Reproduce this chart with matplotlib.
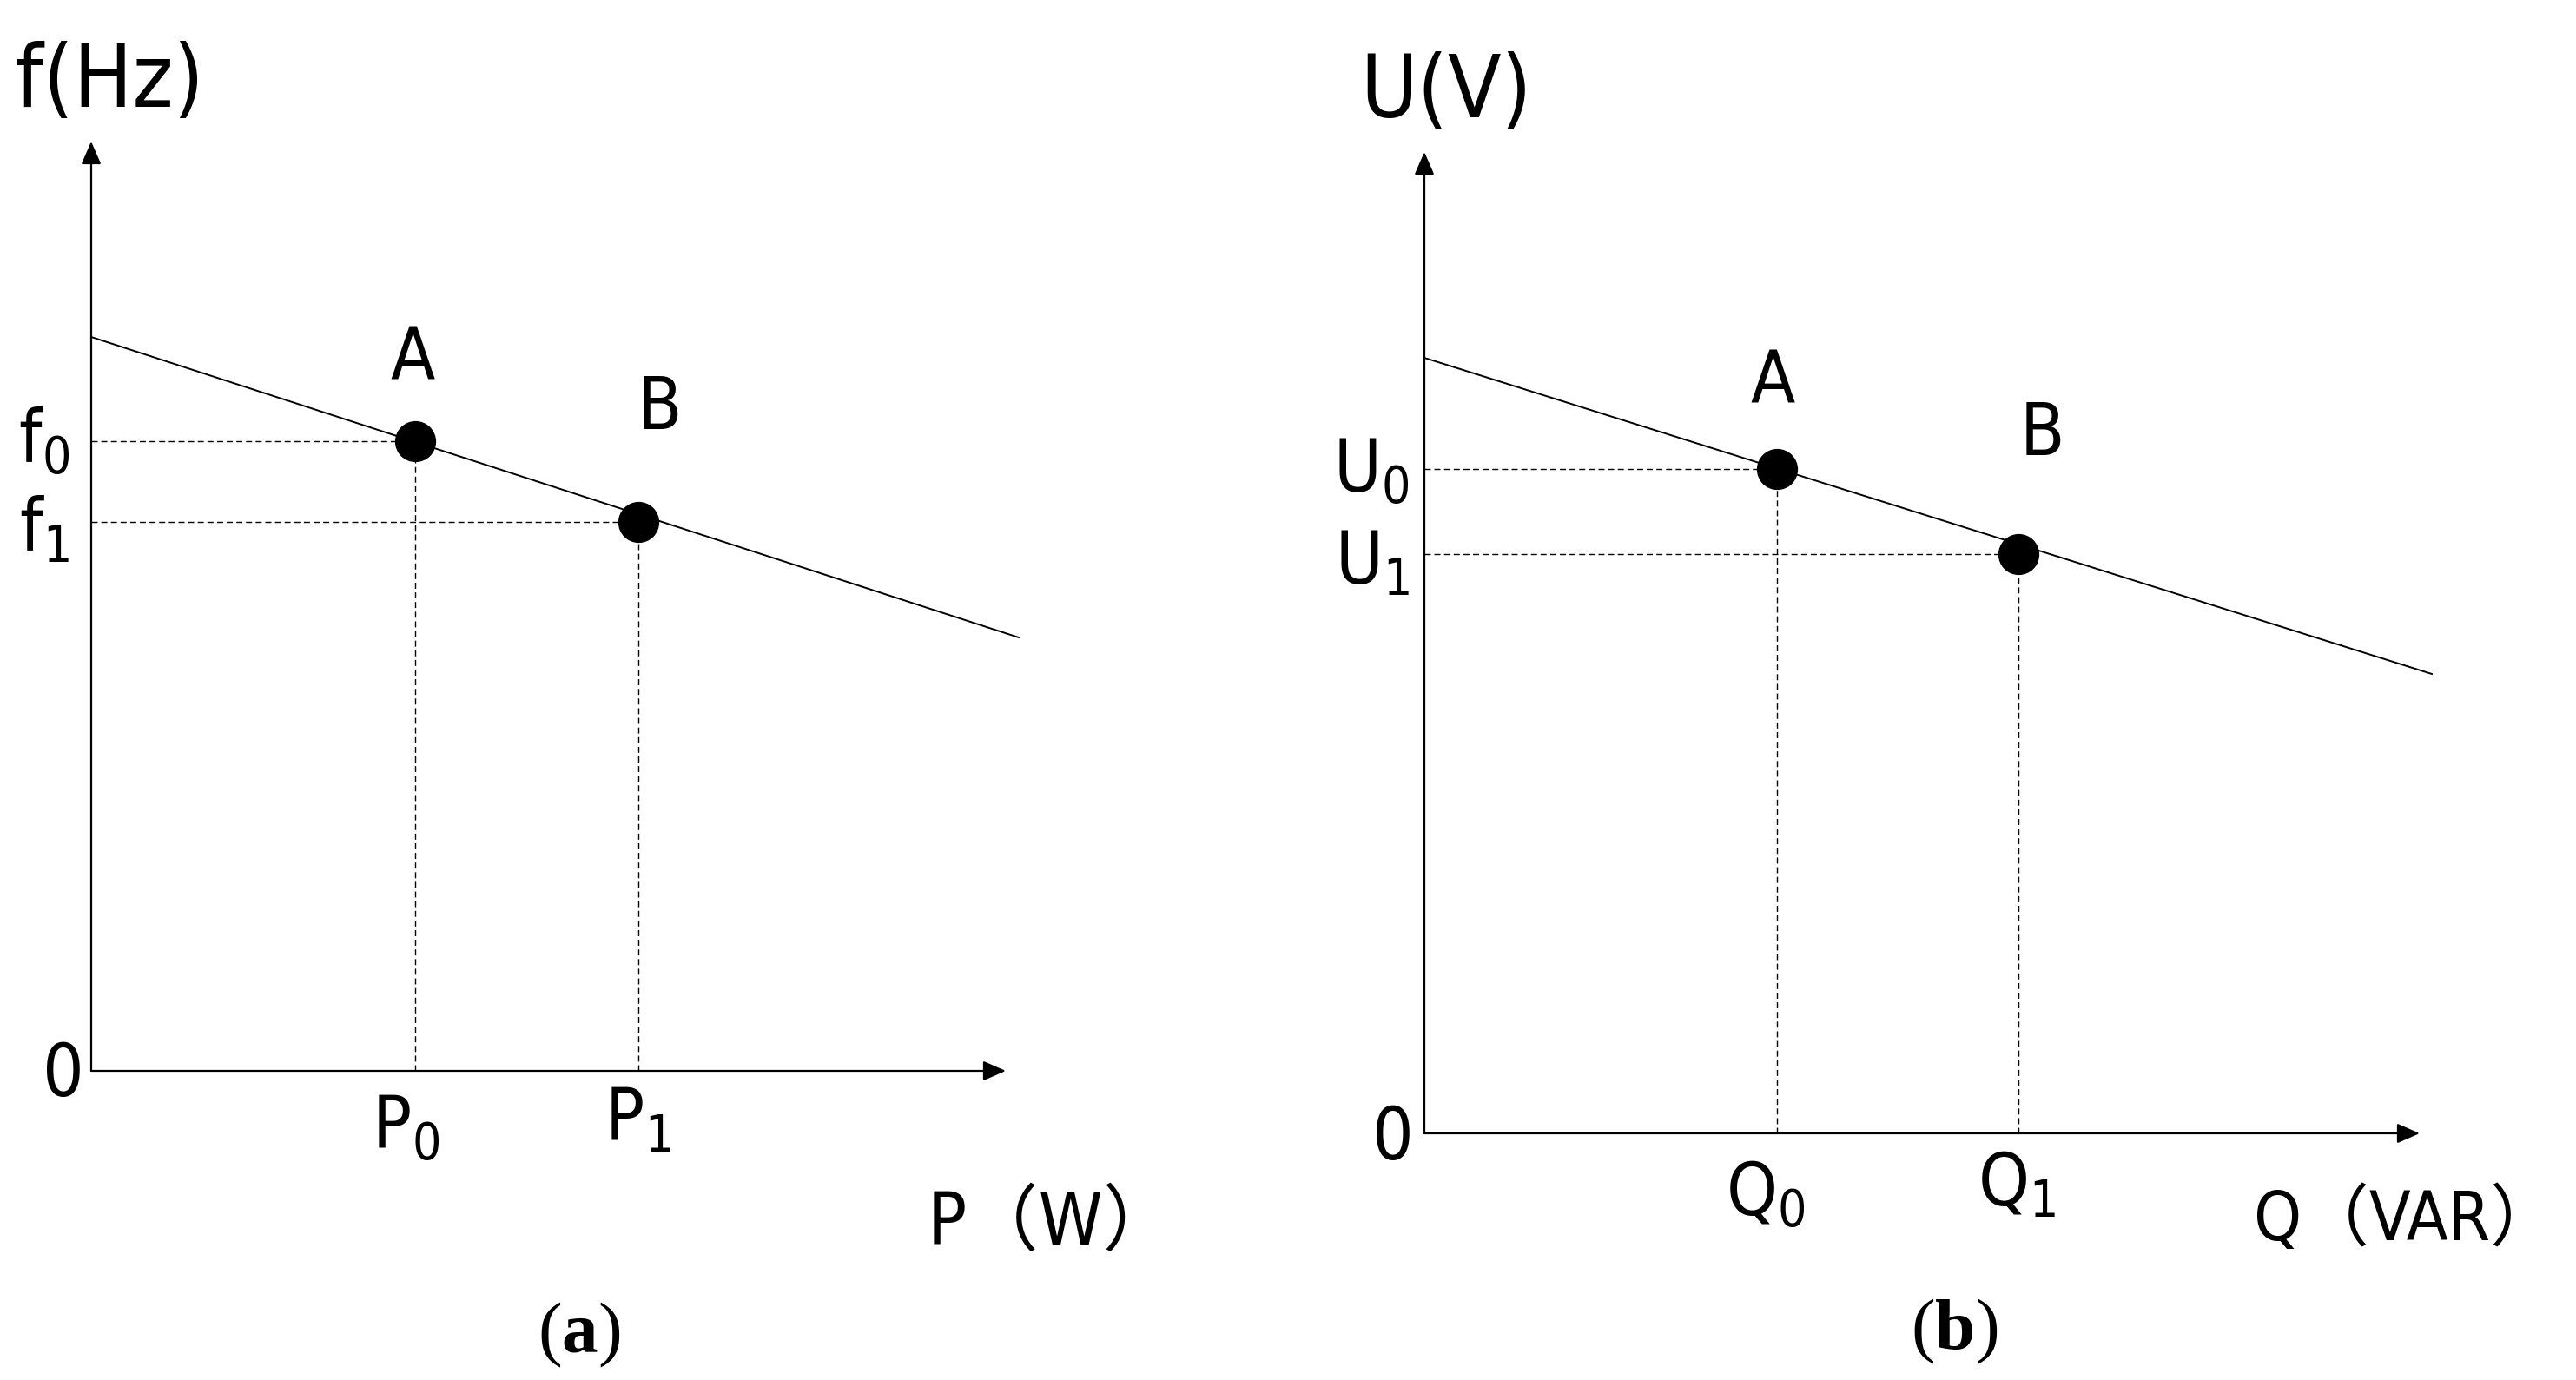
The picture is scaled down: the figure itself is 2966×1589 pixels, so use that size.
import matplotlib
matplotlib.use('Agg')
import matplotlib.pyplot as plt
from matplotlib import font_manager

# droop diagrams, values (1 unit ~ 100 px)
# panel (a): f-P droop
a_line_x = [0.0, 10.68]
a_line_y = [8.45, 4.99]
a_pts_x = [3.73, 6.30]          # P0, P1
a_pts_y = [7.25, 6.32]          # f0, f1
a_xmax, a_ymax = 10.53, 10.70

# panel (b): U-Q droop
b_line_x = [0.0, 11.60]
b_line_y = [8.93, 5.29]
b_pts_x = [4.06, 6.84]          # Q0, Q1
b_pts_y = [7.65, 6.67]          # U0, U1
b_xmax, b_ymax = 11.46, 11.30


def pick(names):
    for n in names:
        try:
            font_manager.findfont(n, fallback_to_default=False)
            return n
        except Exception:
            pass
    return 'DejaVu Sans'


# look for a narrow sans face, the reference uses a condensed font
NARROW, STRETCH = None, 'normal'
for f in font_manager.fontManager.ttflist:
    key = (f.name + ' ' + f.fname).lower()
    if ('narrow' in key or 'condensed' in key) and 'bold' not in key \
            and 'oblique' not in key and 'italic' not in key and 'serif' not in key \
            and 'mono' not in key:
        NARROW, STRETCH = f.name, f.stretch
        break
SANS = NARROW or pick(['Liberation Sans', 'DejaVu Sans'])
FAM = [SANS, 'Noto Sans CJK SC', 'DejaVu Sans']
SERIF = pick(['Liberation Serif', 'DejaVu Serif'])

# bold serif letter inside the panel tags
plt.rcParams['mathtext.fontset'] = 'custom'
plt.rcParams['mathtext.bf'] = SERIF + ':bold'
plt.rcParams['mathtext.rm'] = SERIF


def arrow(ax, x0, y0, x1, y1):
    ax.annotate('', xy=(x1, y1), xytext=(x0, y0), annotation_clip=False,
                arrowprops=dict(arrowstyle='-|>,head_length=0.8,head_width=0.35',
                                lw=1.6, color='k', shrinkA=0, shrinkB=0,
                                mutation_scale=20))


def panel(ax, lx, ly, px, py, xmax, ymax):
    arrow(ax, 0, 0, 0, ymax)
    arrow(ax, 0, 0, xmax, 0)
    ax.plot(lx, ly, color='k', lw=1.4, clip_on=False)
    for x, y in zip(px, py):
        ax.plot([0, x], [y, y], color='k', lw=1.0, ls=(0, (5, 3)), clip_on=False)
        ax.plot([x, x], [0, y], color='k', lw=1.0, ls=(0, (5, 3)), clip_on=False)
    ax.plot(px, py, 'o', color='k', ms=33, clip_on=False, zorder=5)


def txt(ax, x, y, s, size=60, ha='center', va='baseline', **kw):
    ax.text(x, y, s, fontsize=size, ha=ha, va=va, family=FAM,
            fontstretch=STRETCH, **kw)


fig = plt.figure(figsize=(29.66, 15.89), dpi=100)
W, H = 2966, 1589

ax1 = fig.add_axes([105 / W, (H - 1233) / H, 1200 / W, 1100 / H])
ax1.set_xlim(0, 12)
ax1.set_ylim(0, 11)
ax1.axis('off')
panel(ax1, a_line_x, a_line_y, a_pts_x, a_pts_y, a_xmax, a_ymax)
txt(ax1, 0.21, 11.37, 'f(Hz)', size=72, va='center')
txt(ax1, 3.70, 8.19, 'A', va='center')
txt(ax1, 6.54, 7.62, 'B', va='center')
txt(ax1, -0.25, 7.00, r'f$\mathregular{_0}$', ha='right')
txt(ax1, -0.25, 5.99, r'f$\mathregular{_1}$', ha='right')
txt(ax1, 3.62, -0.90, r'P$\mathregular{_0}$')
txt(ax1, 6.29, -0.80, r'P$\mathregular{_1}$')
txt(ax1, -0.32, -0.29, '0')
txt(ax1, 9.63, -2.00, 'P（W）', ha='left')
ax1.text(5.62, -3.24, r'($\mathbf{a}$)', fontsize=60, ha='center', va='baseline',
         family=SERIF)

ax2 = fig.add_axes([1640 / W, (H - 1305) / H, 1200 / W, 1200 / H])
ax2.set_xlim(0, 12)
ax2.set_ylim(0, 12)
ax2.axis('off')
panel(ax2, b_line_x, b_line_y, b_pts_x, b_pts_y, b_xmax, b_ymax)
txt(ax2, 0.25, 11.98, 'U(V)', size=72, va='center')
txt(ax2, 4.01, 8.64, 'A', va='center')
txt(ax2, 7.11, 8.04, 'B', va='center')
txt(ax2, -0.17, 7.38, r'U$\mathregular{_0}$', ha='right')
txt(ax2, -0.17, 6.33, r'U$\mathregular{_1}$', ha='right')
txt(ax2, 3.93, -0.95, r'Q$\mathregular{_0}$')
txt(ax2, 6.82, -0.83, r'Q$\mathregular{_1}$')
txt(ax2, -0.36, -0.30, '0')
txt(ax2, 9.55, -1.23, 'Q（VAR）', size=56, ha='left')
ax2.text(6.10, -2.48, r'($\mathbf{b}$)', fontsize=60, ha='center', va='baseline',
         family=SERIF)

fig.savefig('out.png', dpi=100)
